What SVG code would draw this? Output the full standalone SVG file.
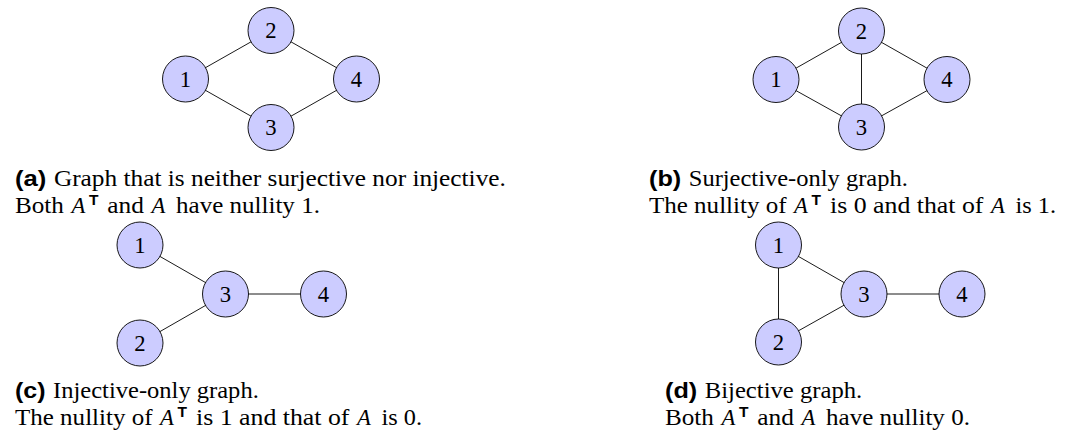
<svg xmlns="http://www.w3.org/2000/svg" width="1065" height="432" viewBox="0 0 1065 432">
<style>
.bg{fill:#ffffff}
.edge{stroke:#000;stroke-width:0.9;fill:none}
.node circle{fill:#ccccff;stroke:#000;stroke-width:0.9}
.node text{font-family:"Liberation Serif","Times New Roman",serif;font-size:22.7px;text-anchor:middle;fill:#000}
.cap{font-family:"Liberation Serif","Times New Roman",serif;font-size:22.7px;fill:#000}
.lab{font-family:"Liberation Sans",Arial,sans-serif;font-weight:bold;font-size:22.7px}
.it{font-style:italic}
.sup{font-family:"Liberation Sans",Arial,sans-serif;font-weight:bold;font-size:15.5px}
</style>
<rect class="bg" x="0" y="0" width="1065" height="432"/>
<g id="connectors">
<line class="edge" x1="185.5" y1="79" x2="271" y2="30.5"/>
<line class="edge" x1="185.5" y1="79" x2="271" y2="127.5"/>
<line class="edge" x1="271" y1="30.5" x2="356.5" y2="79"/>
<line class="edge" x1="271" y1="127.5" x2="356.5" y2="79"/>
<line class="edge" x1="776" y1="79.5" x2="861.5" y2="31"/>
<line class="edge" x1="776" y1="79.5" x2="861.5" y2="127"/>
<line class="edge" x1="861.5" y1="31" x2="861.5" y2="127"/>
<line class="edge" x1="861.5" y1="31" x2="947" y2="79.5"/>
<line class="edge" x1="861.5" y1="127" x2="947" y2="79.5"/>
<line class="edge" x1="140" y1="245" x2="225.5" y2="294"/>
<line class="edge" x1="140" y1="343" x2="225.5" y2="294"/>
<line class="edge" x1="225.5" y1="294" x2="323.5" y2="294"/>
<line class="edge" x1="778.5" y1="245" x2="778.5" y2="342"/>
<line class="edge" x1="778.5" y1="245" x2="864" y2="294"/>
<line class="edge" x1="778.5" y1="342" x2="864" y2="294"/>
<line class="edge" x1="864" y1="294" x2="962" y2="294"/>
</g>
<g id="a-n1" class="node"><circle cx="185.5" cy="79" r="23"/><text x="185.5" y="86.6">1</text></g>
<g id="a-n2" class="node"><circle cx="271" cy="30.5" r="23"/><text x="271" y="38.1">2</text></g>
<g id="a-n3" class="node"><circle cx="271" cy="127.5" r="23"/><text x="271" y="135.1">3</text></g>
<g id="a-n4" class="node"><circle cx="356.5" cy="79" r="23"/><text x="356.5" y="86.6">4</text></g>
<g id="b-n1" class="node"><circle cx="776" cy="79.5" r="23"/><text x="776" y="87.1">1</text></g>
<g id="b-n2" class="node"><circle cx="861.5" cy="31" r="23"/><text x="861.5" y="38.6">2</text></g>
<g id="b-n3" class="node"><circle cx="861.5" cy="127" r="23"/><text x="861.5" y="134.6">3</text></g>
<g id="b-n4" class="node"><circle cx="947" cy="79.5" r="23"/><text x="947" y="87.1">4</text></g>
<g id="c-n1" class="node"><circle cx="140" cy="245" r="23"/><text x="140" y="252.6">1</text></g>
<g id="c-n2" class="node"><circle cx="140" cy="343" r="23"/><text x="140" y="350.6">2</text></g>
<g id="c-n3" class="node"><circle cx="225.5" cy="294" r="23"/><text x="225.5" y="301.6">3</text></g>
<g id="c-n4" class="node"><circle cx="323.5" cy="294" r="23"/><text x="323.5" y="301.6">4</text></g>
<g id="d-n1" class="node"><circle cx="778.5" cy="245" r="23"/><text x="778.5" y="252.6">1</text></g>
<g id="d-n2" class="node"><circle cx="778.5" cy="342" r="23"/><text x="778.5" y="349.6">2</text></g>
<g id="d-n3" class="node"><circle cx="864" cy="294" r="23"/><text x="864" y="301.6">3</text></g>
<g id="d-n4" class="node"><circle cx="962" cy="294" r="23"/><text x="962" y="301.6">4</text></g>
<g id="caption-a" class="cap">
<text x="15" y="186" class="lab" textLength="31.3" lengthAdjust="spacingAndGlyphs">(a)</text>
<text x="53.9" y="186" textLength="452" lengthAdjust="spacingAndGlyphs">Graph that is neither surjective nor injective.</text>
<text x="15" y="213" textLength="48.9" lengthAdjust="spacingAndGlyphs">Both</text>
<text x="71.4" y="213" class="it">A</text>
<text x="88.9" y="205" class="sup">T</text>
<text x="107.3" y="213" textLength="36.6" lengthAdjust="spacingAndGlyphs">and</text>
<text x="151.5" y="213" class="it">A</text>
<text x="176.1" y="213" textLength="143.8" lengthAdjust="spacingAndGlyphs">have nullity 1.</text>
</g>
<g id="caption-b" class="cap">
<text x="649" y="186" class="lab" textLength="32.2" lengthAdjust="spacingAndGlyphs">(b)</text>
<text x="688.8" y="186" textLength="219" lengthAdjust="spacingAndGlyphs">Surjective-only graph.</text>
<text x="649" y="213" textLength="137.5" lengthAdjust="spacingAndGlyphs">The nullity of</text>
<text x="794.1" y="213" class="it">A</text>
<text x="811.6" y="205" class="sup">T</text>
<text x="830" y="213" textLength="153.4" lengthAdjust="spacingAndGlyphs">is 0 and that of</text>
<text x="991" y="213" class="it">A</text>
<text x="1015.5" y="213" textLength="40.5" lengthAdjust="spacingAndGlyphs">is 1.</text>
</g>
<g id="caption-c" class="cap">
<text x="15" y="398" class="lab" textLength="30.5" lengthAdjust="spacingAndGlyphs">(c)</text>
<text x="53.1" y="398" textLength="205.7" lengthAdjust="spacingAndGlyphs">Injective-only graph.</text>
<text x="15" y="425" textLength="137.5" lengthAdjust="spacingAndGlyphs">The nullity of</text>
<text x="160.1" y="425" class="it">A</text>
<text x="177.6" y="417" class="sup">T</text>
<text x="196" y="425" textLength="153.4" lengthAdjust="spacingAndGlyphs">is 1 and that of</text>
<text x="357" y="425" class="it">A</text>
<text x="381.5" y="425" textLength="40.5" lengthAdjust="spacingAndGlyphs">is 0.</text>
</g>
<g id="caption-d" class="cap">
<text x="665" y="398" class="lab" textLength="32.2" lengthAdjust="spacingAndGlyphs">(d)</text>
<text x="704.8" y="398" textLength="157.4" lengthAdjust="spacingAndGlyphs">Bijective graph.</text>
<text x="665" y="425" textLength="48.9" lengthAdjust="spacingAndGlyphs">Both</text>
<text x="721.4" y="425" class="it">A</text>
<text x="738.9" y="417" class="sup">T</text>
<text x="757.3" y="425" textLength="36.6" lengthAdjust="spacingAndGlyphs">and</text>
<text x="801.5" y="425" class="it">A</text>
<text x="826.1" y="425" textLength="143.8" lengthAdjust="spacingAndGlyphs">have nullity 0.</text>
</g>
</svg>
